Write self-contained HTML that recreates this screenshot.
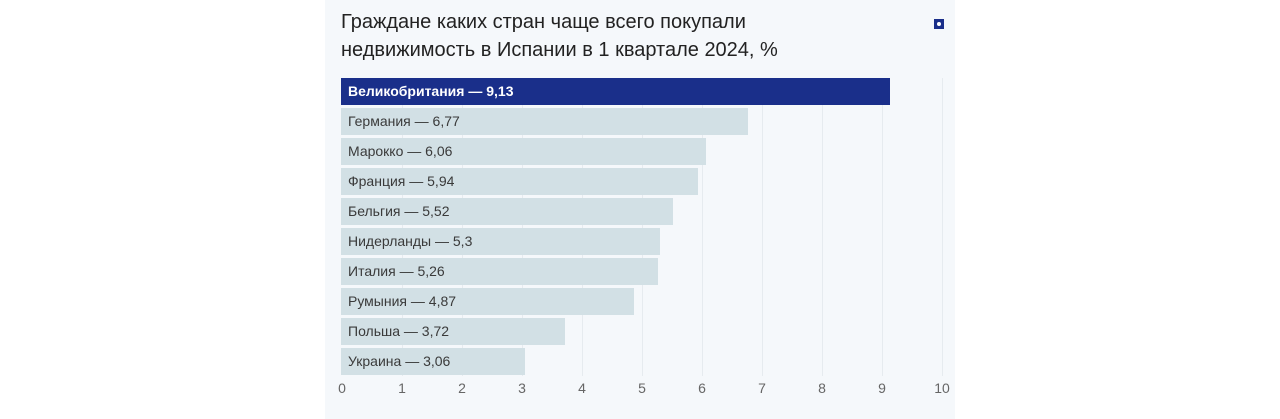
<!DOCTYPE html>
<html><head><meta charset="utf-8"><style>
body{margin:0;width:1280px;height:419px;background:#fff;position:relative;overflow:hidden;font-family:"Liberation Sans","DejaVu Sans",sans-serif}
#panel{position:absolute;left:325px;top:0;width:630px;height:419px;background:#f5f8fb}
.t{position:absolute;left:341px;font-size:20px;color:#222;line-height:28px}
.g{position:absolute;top:78px;height:298px;width:1px;background:#e6ebef}
.b{position:absolute;left:341px;height:27px;background:#d2e0e5;font-size:14px;color:#3a3a3a;line-height:27px;box-sizing:border-box;padding-left:7px;white-space:nowrap}
.x{position:absolute;top:380px;font-size:14px;color:#666;width:30px;text-align:center}
</style></head><body>
<div id="panel"></div>
<div class="t" style="top:8px">Граждане каких стран чаще всего покупали</div>
<div class="t" style="top:36px">недвижимость в Испании в 1 квартале 2024, %</div>
<div style="position:absolute;left:934px;top:19px;width:10px;height:10px;background:#1a2f8a"></div>
<div style="position:absolute;left:937px;top:22px;width:4px;height:4px;background:#fff;border-radius:50%"></div>
<div class="g" style="left:402px"></div><div class="g" style="left:462px"></div><div class="g" style="left:522px"></div><div class="g" style="left:582px"></div><div class="g" style="left:642px"></div><div class="g" style="left:702px"></div><div class="g" style="left:762px"></div><div class="g" style="left:822px"></div><div class="g" style="left:882px"></div><div class="g" style="left:942px"></div>
<div class="b" style="top:78px;width:549px;background:#1a2f8a;color:#fff;font-weight:bold">Великобритания — 9,13</div>
<div class="b" style="top:108px;width:407px">Германия — 6,77</div>
<div class="b" style="top:138px;width:365px">Марокко — 6,06</div>
<div class="b" style="top:168px;width:357px">Франция — 5,94</div>
<div class="b" style="top:198px;width:332px">Бельгия — 5,52</div>
<div class="b" style="top:228px;width:319px">Нидерланды — 5,3</div>
<div class="b" style="top:258px;width:317px">Италия — 5,26</div>
<div class="b" style="top:288px;width:293px">Румыния — 4,87</div>
<div class="b" style="top:318px;width:224px">Польша — 3,72</div>
<div class="b" style="top:348px;width:184px">Украина — 3,06</div>
<div class="x" style="left:327px">0</div><div class="x" style="left:387px">1</div><div class="x" style="left:447px">2</div><div class="x" style="left:507px">3</div><div class="x" style="left:567px">4</div><div class="x" style="left:627px">5</div><div class="x" style="left:687px">6</div><div class="x" style="left:747px">7</div><div class="x" style="left:807px">8</div><div class="x" style="left:867px">9</div><div class="x" style="left:927px">10</div>
</body></html>
